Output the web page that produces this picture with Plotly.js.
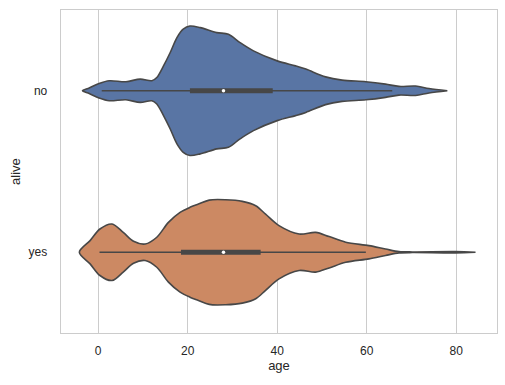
<!DOCTYPE html>
<html>
<head>
<meta charset="utf-8">
<script src="https://cdn.plot.ly/plotly-3.0.1.min.js"></script>
<style>html,body{margin:0;padding:0;background:#fff;}</style>
</head>
<body>
<div id="chart" style="width:505px;height:385px;"></div>
<script>
// Categories
const categories = ['no', 'yes'];
const xTicks = [0, 20, 40, 60, 80];

// Violin outlines: age positions and half-widths (category units)
const noAge = [-3.5, -2.0, 0.2, 2.5, 6.2, 9.4, 12.0, 13.1, 14.6, 16.1, 17.6, 19.0, 20.5, 22.8, 26.5, 29.1, 31.7, 34.7, 40.0, 44.1, 46.4, 50.8, 54.5, 59.8, 64.2, 67.2, 70.9, 73.9, 78.0];
const noWidth = [0, 0.017, 0.045, 0.062, 0.056, 0.072, 0.062, 0.082, 0.154, 0.237, 0.329, 0.381, 0.401, 0.391, 0.360, 0.350, 0.298, 0.247, 0.185, 0.154, 0.134, 0.086, 0.066, 0.056, 0.041, 0.027, 0.029, 0.014, 0];

const yesAge = [-4.2, -1.8, 0.4, 3.1, 5.6, 7.9, 10.5, 13.1, 15.7, 18.3, 20.5, 22.4, 24.8, 28.5, 32.2, 35.2, 37.4, 40.4, 44.9, 48.6, 51.6, 55.3, 60.5, 64.2, 67.2, 70.2, 79.8, 84.3];
const yesWidth = [0, 0.072, 0.144, 0.175, 0.123, 0.068, 0.051, 0.093, 0.185, 0.247, 0.278, 0.298, 0.323, 0.325, 0.315, 0.288, 0.236, 0.165, 0.113, 0.123, 0.097, 0.062, 0.041, 0.020, 0.004, 0.002, 0.004, 0];

// Inner box stats: [whisker low, q1, median, q3, whisker high]
const noBox = [0.8, 20.5, 28.0, 39.0, 65.7];
const yesBox = [0.3, 18.5, 28.0, 36.3, 59.8];

const fills = ['#5975a4', '#cc8963'];
const lineCol = '#474747';

function violin(ages, widths, pos, color) {
  const xs = ages.concat(ages.slice().reverse());
  const ys = widths.map(w => pos - w).concat(widths.slice().reverse().map(w => pos + w));
  return {
    type: 'scatter', mode: 'lines', x: xs, y: ys,
    fill: 'toself', fillcolor: color,
    line: {color: lineCol, width: 1.6, shape: 'spline', smoothing: 0.9},
    hoverinfo: 'skip', showlegend: false
  };
}
function boxTraces(b, pos) {
  return [
    {type: 'scatter', mode: 'lines', x: [b[0], b[4]], y: [pos, pos],
     line: {color: lineCol, width: 1.6}, showlegend: false, hoverinfo: 'skip'},
    {type: 'scatter', mode: 'lines', x: [b[1], b[3]], y: [pos, pos],
     line: {color: lineCol, width: 5}, showlegend: false, hoverinfo: 'skip'},
    {type: 'scatter', mode: 'markers', x: [b[2]], y: [pos],
     marker: {color: '#ffffff', size: 3.5, line: {width: 0}}, showlegend: false, hoverinfo: 'skip'}
  ];
}

const data = [
  violin(noAge, noWidth, 0, fills[0]),
  ...boxTraces(noBox, 0),
  violin(yesAge, yesWidth, 1, fills[1]),
  ...boxTraces(yesBox, 1)
];

const font = {family: 'Liberation Sans, Arial, sans-serif', color: '#262626'};
const layout = {
  width: 505, height: 385,
  margin: {l: 61, r: 8, t: 10, b: 52},
  paper_bgcolor: '#ffffff', plot_bgcolor: '#ffffff',
  font: font,
  xaxis: {
    range: [-8.3, 89.1], tickvals: xTicks, ticktext: xTicks.map(String),
    showgrid: true, gridcolor: '#cccccc', gridwidth: 1.1, zeroline: false,
    showline: true, mirror: true, linecolor: '#cccccc', linewidth: 1.3,
    ticks: '', ticklabelstandoff: 6,
    tickfont: {size: 12, family: font.family, color: '#262626'},
    title: {text: 'age', font: {size: 13, family: font.family, color: '#262626'}, standoff: 4}
  },
  yaxis: {
    range: [1.5, -0.5], tickvals: [0, 1], ticktext: categories,
    showgrid: false, zeroline: false,
    showline: true, mirror: true, linecolor: '#cccccc', linewidth: 1.3,
    ticks: '', ticklabelstandoff: 10,
    tickfont: {size: 12, family: font.family, color: '#262626'},
    title: {text: 'alive', font: {size: 13, family: font.family, color: '#262626'}, standoff: 5}
  }
};

Plotly.newPlot('chart', data, layout, {staticPlot: true, displayModeBar: false});
</script>
</body>
</html>
